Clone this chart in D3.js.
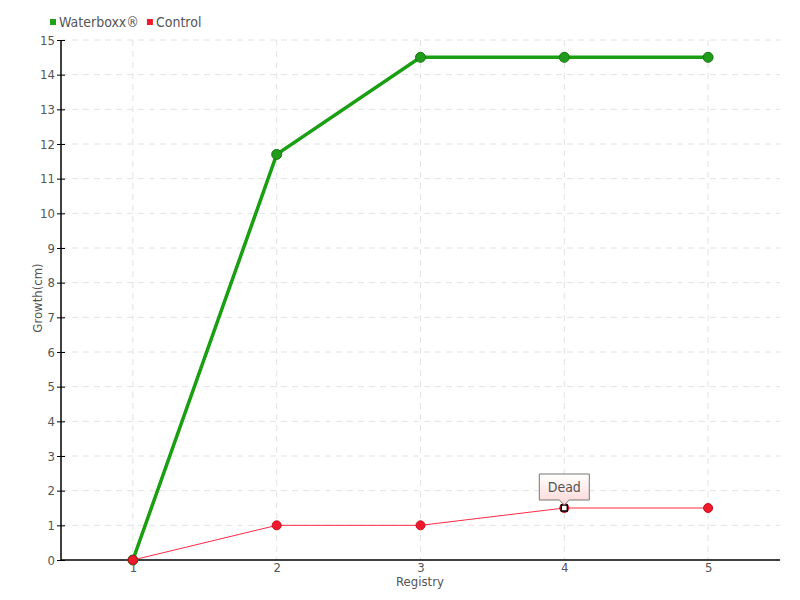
<!DOCTYPE html>
<html><head><meta charset="utf-8">
<script src="https://cdn.jsdelivr.net/npm/d3@7/dist/d3.min.js"></script>
<style>
body{margin:0;background:#fff;}
svg text{font-family:'DejaVu Sans Condensed','Liberation Sans Narrow',sans-serif;fill:#555;}
</style></head><body>
<svg id="c" width="800" height="600"></svg>
<script>
const categories = [1, 2, 3, 4, 5];
const waterboxx = [0, 11.7, 14.5, 14.5, 14.5];
const control = [0, 1, 1, 1.5, 1.5];
const yTicks = [0,1,2,3,4,5,6,7,8,9,10,11,12,13,14,15];
const seriesNames = ["Waterboxx®", "Control"];
const annotation = {series: "Control", index: 3, text: "Dead"};

const svg = d3.select("#c");
const L = 61, R = 780, T = 40, B = 560;
const x = d3.scalePoint().domain(categories).range([L, R]).padding(0.5);
const y = d3.scaleLinear().domain([0, 15]).range([B, T]);

const defs = svg.append("defs");
const grad = defs.append("linearGradient").attr("id","tip").attr("x1",0).attr("y1",0).attr("x2",0).attr("y2",1);
grad.append("stop").attr("offset","0%").attr("stop-color","#ffffff");
grad.append("stop").attr("offset","100%").attr("stop-color","#fcd6d6");

// grid
const g = svg.append("g");
g.selectAll(".hg").data(yTicks.filter(d=>d>0)).enter().append("line")
  .attr("x1", L).attr("x2", R).attr("y1", d=>y(d)).attr("y2", d=>y(d))
  .attr("stroke", "#e2e2e2").attr("stroke-dasharray", "6,5");
g.selectAll(".vg").data(categories).enter().append("line")
  .attr("x1", d=>x(d)).attr("x2", d=>x(d)).attr("y1", T).attr("y2", B)
  .attr("stroke", "#e2e2e2").attr("stroke-dasharray", "6,5");

// axes
const yAxis = svg.append("g").attr("transform",`translate(${L},0)`)
  .call(d3.axisLeft(y).tickValues(yTicks).tickSize(4).tickFormat(d3.format("d")));
yAxis.select(".domain").remove();
yAxis.selectAll(".tick line").attr("x1",-4).attr("x2",4).attr("stroke","#000");
yAxis.selectAll(".tick text").attr("x",-6).style("font-size","13px").attr("fill","#555");
svg.append("line").attr("x1",L).attr("x2",L).attr("y1",T).attr("y2",B).attr("stroke","#000").attr("stroke-width",1.5);

const xAxis = svg.append("g").attr("transform",`translate(0,${B})`)
  .call(d3.axisBottom(x).tickSize(0));
xAxis.select(".domain").remove();
xAxis.selectAll(".tick text").attr("y",3).style("font-size","13px").attr("fill","#555");
svg.append("line").attr("x1",L).attr("x2",R).attr("y1",B).attr("y2",B).attr("stroke","#000").attr("stroke-width",1.5);

// axis titles
svg.append("text").attr("x", 420).attr("y", 586).attr("text-anchor","middle").style("font-size","13px").text("Registry");
svg.append("text").attr("transform","translate(42,298) rotate(-90)").attr("text-anchor","middle").style("font-size","13px").text("Growth(cm)");

// lines
const line = d3.line().x((d,i)=>x(categories[i])).y(d=>y(d));
svg.append("path").datum(control).attr("d", line).attr("fill","none").attr("stroke","#ff2a45").attr("stroke-width",1);
svg.append("path").datum(waterboxx).attr("d", line).attr("fill","none").attr("stroke","#1a9e12").attr("stroke-width",3.5);

svg.selectAll(".gp").data(waterboxx).enter().append("circle")
  .attr("cx",(d,i)=>x(categories[i])).attr("cy",d=>y(d)).attr("r",5)
  .attr("fill","#229a1c").attr("stroke","#157a10").attr("stroke-width",1);
svg.selectAll(".rp").data(control).enter().append("circle")
  .attr("cx",(d,i)=>x(categories[i])).attr("cy",d=>y(d)).attr("r",4.5)
  .attr("fill","#ee1a2e").attr("stroke","#c8101e").attr("stroke-width",1);

// annotation
const ax = x(categories[annotation.index]), ay = y(control[annotation.index]);
svg.append("rect").attr("x",ax-3).attr("y",ay-3).attr("width",6).attr("height",6)
  .attr("fill","#fff").attr("stroke","#000").attr("stroke-width",1.5);
const bw = 50, bh = 26, by = ay - 34;
svg.append("path")
  .attr("d", `M${ax-bw/2},${by} h${bw} v${bh} h${-bw/2+5} l-5,5 l-5,-5 h${-bw/2+5} Z`)
  .attr("fill","url(#tip)").attr("stroke","#777").attr("stroke-width",1);
svg.append("text").attr("x",ax).attr("y",by+18).attr("text-anchor","middle").style("font-size","14px").text(annotation.text);

// legend
const colors = ["#22a21a", "#ee1a2e"];
const lg = svg.append("g");
let lx = 50;
seriesNames.forEach((n,i)=>{
  lg.append("rect").attr("x",lx).attr("y",19).attr("width",6).attr("height",6).attr("fill",colors[i]);
  const t = lg.append("text").attr("x",lx+9).attr("y",27).style("font-size","14px").text(n);
  lx += 9 + t.node().getComputedTextLength() + 8;
});
</script>
</body></html>
